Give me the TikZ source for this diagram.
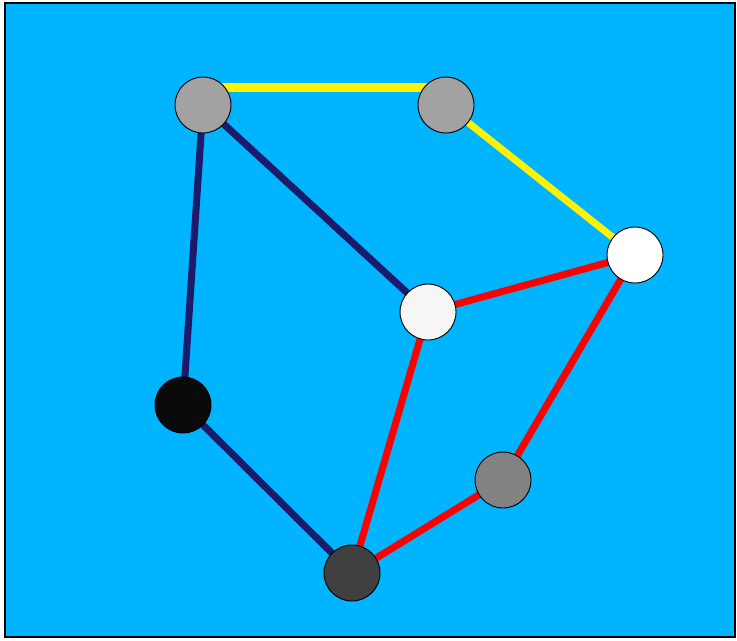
\documentclass[tikz,border=0pt]{standalone}
\usepackage{xcolor}
\usepackage{tikz}
\definecolor{GBack}{HTML}{00B4FF}
\definecolor{GNavy}{HTML}{1C1A6A}
\definecolor{GLight}{HTML}{A2A2A2}
\definecolor{GMid}{HTML}{828282}
\definecolor{GDark}{HTML}{404040}
\definecolor{GWhite}{HTML}{F6F6F6}

\begin{document}
\begin{tikzpicture}[
        x=0.03cm,y=-0.03cm,
        vertex/.style={circle,draw=black,line width=0.8pt,minimum size=1.68cm,inner sep=0pt},
        edge/.style={line width=6pt},
        blueedge/.style={edge,draw=GNavy},
        rededge/.style={edge,draw=red},
        yellowedge/.style={edge,draw=yellow}
      ]
      \useasboundingbox (0,0) rectangle (737,640);
      \draw[fill=GBack,draw=black,line width=1.5pt] (5,3) rectangle (735,637);

      % edges first, vertices on top
      \coordinate (a) at (203,105);
      \coordinate (b) at (446,105);
      \coordinate (c) at (635,255);
      \coordinate (d) at (428,312);
      \coordinate (e) at (183,405);
      \coordinate (f) at (503,480);
      \coordinate (g) at (352,573);

      \draw[yellowedge,line width=7.5pt] ([yshift=15pt]a) -- ([yshift=15pt]b);
      \draw[yellowedge] (b) -- (c);
      \draw[blueedge] (a) -- (e);
      \draw[blueedge] (a) -- (d);
      \draw[blueedge] (e) -- (g);
      \draw[rededge] (d) -- (c);
      \draw[rededge] (d) -- (g);
      \draw[rededge] (c) -- (f);
      \draw[rededge] (f) -- (g);

      \node[vertex,fill=GLight] (va) at (a) {};
      \node[vertex,fill=GLight] (vb) at (b) {};
      \node[vertex,fill=white] (vc) at (c) {};
      \node[vertex,fill=GWhite] (vd) at (d) {};
      \node[vertex,fill=black!96] (ve) at (e) {};
      \node[vertex,fill=GMid] (vf) at (f) {};
      \node[vertex,fill=GDark] (vg) at (g) {};
    \end{tikzpicture}
\end{document}
